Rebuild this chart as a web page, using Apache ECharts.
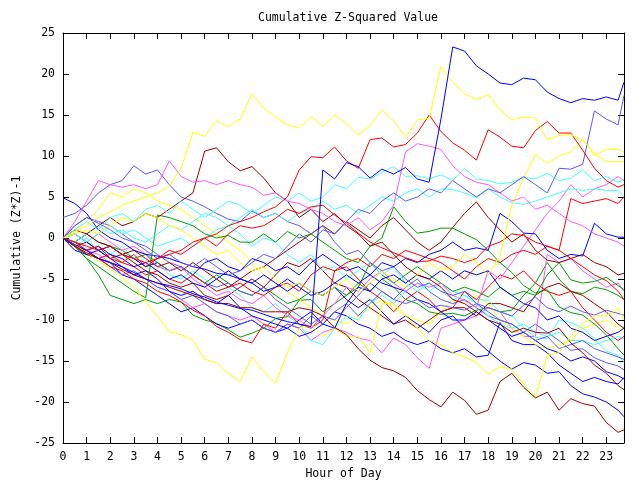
<!DOCTYPE html>
<html><head><meta charset="utf-8">
<script src="https://cdn.jsdelivr.net/npm/echarts@6/dist/echarts.min.js"></script>
<style>html,body{margin:0;background:#fff}#c{width:640px;height:480px}</style>
</head><body><div id="c"></div>
<script>
const HOURS = [0,0.5,1,1.5,2,2.5,3,3.5,4,4.5,5,5.5,6,6.5,7,7.5,8,8.5,9,9.5,10,10.5,11,11.5,12,12.5,13,13.5,14,14.5,15,15.5,16,16.5,17,17.5,18,18.5,19,19.5,20,20.5,21,21.5,22,22.5,23,23.5,23.75];
const X_LABELS = ['0','1','2','3','4','5','6','7','8','9','10','11','12','13','14','15','16','17','18','19','20','21','22','23'];
const Y_TICKS = [-25,-20,-15,-10,-5,0,5,10,15,20,25];

const blueTop = [0,-0.8,-1.5,-2.5,-3,-3.5,-4.2,-5,-5.5,-5.8,-6.2,-6.8,-7.2,-7.8,-8.2,-8.6,-8.8,-9.3,-9.8,-10.2,-10.5,-10.8,8.3,7.2,9.2,8.7,7.3,8.4,7.8,8.6,7.2,6.8,14.5,23.3,22.8,21,20,18.9,18.7,19.5,19.3,17.8,17,16.5,17,16.8,17.2,16.8,19];
const yelTop = [0,0.8,1.5,2.5,3.2,4,4.5,5,5.5,6.3,8.5,12.9,12.4,14.3,13.6,14.5,17.6,15.8,14.8,13.8,13.4,14.8,13.6,15,14,12.6,13.7,15.6,14.3,12.3,14.4,14.6,20.9,19,17.6,16.9,17.5,15.6,14.4,14.8,14.6,12,12.5,12.6,12,10.3,9.3,9.3,9.3];
const redTop = [0,-0.5,-1,-1.5,-1,-2,-2.5,-3,-2.5,-2,-1.5,-0.5,0,0.5,1.5,2,2.5,3.2,3.8,5,8.3,9.9,9.8,11.1,9.4,8.5,12,12.2,11.1,11.4,12.8,15,13,11.6,10.7,9.5,13.2,12.3,11.2,11,13.1,14.2,12.8,12.8,10.7,8.5,7,6.2,6.5];
const yelBot = [0,-0.8,-1.8,-2.8,-3.8,-4.8,-6,-7.8,-9.5,-11.4,-11.8,-12.5,-14.8,-15.2,-16.5,-17.5,-14.5,-16.3,-17.7,-14,-11,-10.5,-12,-11,-12,-12,-14,-8,-8,-9.5,-11,-12.5,-13,-14,-14.5,-15.2,-16.6,-15.7,-16,-17.8,-19.5,-14.3,-14,-12,-10.4,-9.5,-9.5,-8.6,-10];
const dredBot = [0,-1,-1.8,-2.5,-3,-3.8,-4.5,-5,-5.5,-6,-6.5,-7,-7.5,-8,-8,-8.5,-8.5,-9,-9,-9,-8.5,-8.8,-9.5,-10.9,-11.8,-13.5,-14.9,-15.8,-16.2,-17,-18.6,-19.7,-20.6,-18.8,-19.8,-21.5,-21,-17.5,-16.5,-18.2,-19.5,-18.8,-21,-19.6,-20.2,-20.5,-22.5,-23.7,-23.4];
const yelB = [0,0.5,1,0.5,1.5,2.5,2,3,2.5,1.5,1,0,-1,-2,-1.5,-3,-4,-3.5,-5,-6,-5.5,-6.5,-7,-6,-5,-6.5,-5.5,-4,-5,-6,-4.5,-3,-4,-3.5,-2,-3,-4.5,-2.2,4,7.3,10.2,9.1,10,10.5,12,10.1,10.8,10.8,10.5];
const lblueTop = [0,1.5,2.5,1.8,1,0,-0.5,-1.5,-2.5,-2,-3,-3.5,-2.5,-3.5,-4.5,-4,-3,-2,-2.5,-1,0.5,-0.5,1,0.5,2,3.5,3,4.5,5.5,4.5,5,6,5.5,7,6,5,6,5.5,6.5,7.5,6.5,5.5,8.5,8.4,9,15.5,14.5,13.8,17.4];
const magTop = [0,2,4.5,7,6.5,6.2,6.5,6,6.5,9.4,7.5,6.8,7,6.5,7,6.5,6.2,5.2,5.5,4.5,4.2,3.5,3,2,1.5,2.5,1,2,4,10.5,11.5,11.2,10.8,8.8,7.5,6.8,6.5,5.5,4.5,5,3.5,4,3,2,1.5,0.5,0,-0.5,-1];
const cyanA = [0,1,2,1,2.5,3,2,3.5,4,3,4.5,3.5,2.5,3.5,4.5,4,3,4,5,4.5,5.5,4.5,5,6.5,6,7.4,7.2,8,8.7,7.5,7.6,7.2,7.7,7,8.5,7.2,7,6.6,6.8,7.4,7.2,7.9,7,7.3,8.3,7,7.5,6.8,7.2];
const cyanB = [0,-0.5,0.5,1.5,0.5,1,0,-0.5,0.5,1.5,1,2,3,2.5,1.5,2.5,3.5,2.5,3,2,3,3.5,4.5,3.5,4,3,4,5,4.5,5.5,6,5,6,5.9,5.5,4.9,6,5,4.3,4.1,4.5,5,5.5,6,5.8,6,5.8,5.8,5];
const blueB = [0,-1,-1.5,-1,-2,-2.5,-3.5,-3,-4,-5,-4.5,-5.5,-6,-5,-4,-5,-5.5,-6.5,-6,-5,-6,-7,-6.5,-5.5,-4.5,-5.5,-4.5,-3,-3.5,-2.5,-3,-2,-1.5,-0.5,-1.5,-1.2,-1.5,3,2,0.6,0.5,-1.5,-2.5,-2,-2.2,1.8,0.5,0.1,0.1];
const redC = [0,-1,-1.5,-1,-2.5,-3,-2,-3.5,-2.5,-1.5,-2,-1,0,-1,0.5,1.5,1.2,1.5,2.4,3.5,3,3.8,4,2.8,1.8,0.6,-0.5,-1.2,-1.8,-2.4,-2.9,-2.8,-2.2,-2.5,-3,-2.5,-1,-0.5,0.5,0.3,-0.5,-1,-1.5,-2.5,-3.5,-4.5,-5.2,-6.5,-7.5];
const redD = [0,-0.5,-1.5,-2.5,-2,-3,-3.5,-4.5,-4,-5,-5.5,-4.5,-5.5,-6.5,-6,-5.5,-6.5,-7,-6,-5.5,-6.5,-4.5,-3.5,-4,-3,-2.5,-3.5,-2,-2.5,-1.5,-2,-2.5,-3,-4,-5,-3.5,-2.5,-3,-2,-1.5,-2,-1,-1.5,4.8,4.2,4.5,4.8,4.2,5];
const dredC = [0,-0.5,0.5,-0.5,-1,-2,-1.5,-2.5,-3.5,-3,-4,-3,-4,-5,-6,-5,-4,-3.5,-2.5,-1.5,-0.5,0.5,1.5,0.5,2,1,0,1.5,2.5,1,-0.5,-1.5,-0.5,1.3,3,4.4,2.5,1,-0.5,0.5,-1.5,-2.7,-3,-2.5,-2,-3,-3.5,-4.5,-4.3];
const dredD = [0,1,0.5,1.5,2.5,1.5,2,3,2.5,3.5,4.5,5.5,10.6,11,9.3,8.2,8.7,7.3,5.5,4.5,2.5,3.5,2,3,1.5,0.5,-1,-0.5,-2,-3.5,-4.5,-5,-6,-7.5,-8,-9,-10,-10.5,-11.5,-11,-11.5,-11.6,-11,-12.8,-14,-15.5,-16.5,-18,-18.5];
const greenA = [0,-1,-2.5,-3.5,-4.5,-5.5,-6.5,-7.3,2.8,2.5,2,1.5,0.5,0,0.3,-0.5,-0.5,0.5,-0.5,0.8,0,0.5,-0.5,-1.5,-2.5,-3,-1,0,3.8,2,0.6,0.8,1.2,1.2,0.5,-0.2,-1.5,-3,-4.2,-5.8,-6.7,-6.3,-8.4,-9.1,-9.4,-10.5,-11.8,-13.5,-14.3];
const greenB = [0,-1,-2.5,-4.5,-7,-7.5,-8,-7.5,-8,-7.5,-7.8,-9.4,-10,-10.4,-11.2,-12.1,-11.6,-11,-9.8,-9.6,-7.6,-7.5,-9,-8,-7,-5.5,-6.5,-5,-6,-7.5,-8,-9,-9.3,-9.2,-9.5,-8.8,-8.5,-9,-8.8,-7,-5.5,-3,-5,-6.5,-6.8,-6,-6.3,-7,-7.5];
const cyanC = [0,-1,0,-1.5,-2,-1,-2.5,-3.5,-3,-4.5,-5,-4,-5,-6.5,-6,-7,-8.5,-9,-8,-9.5,-10.5,-12.5,-13,-11,-9.5,-10,-8,-7,-8,-6.5,-5.5,-6.5,-5.5,-6.5,-7,-7.5,-7.6,-9,-9.5,-11,-12.1,-12.3,-10,-10.3,-11,-12.3,-13.8,-14.3,-15.1];
const lblueB = [0,-1,-2,-2.5,-3.5,-4.5,-4,-5,-6,-6.5,-7.5,-7,-8,-9,-9.5,-10.5,-10,-11,-11.5,-10.5,-11,-9.5,-10.5,-9,-8,-9.5,-8,-6.5,-7.5,-6,-5,-6.5,-7.5,-8,-7.5,-8.5,-9.5,-10,-10.5,-11.5,-10.5,-11.5,-12.5,-13.7,-13.5,-14.6,-15.2,-15.6,-16.1];
const lblueC = [0,1.5,2.5,2,1.5,0.5,-0.5,-1,-2,-3,-3.5,-4.5,-5.5,-6,-5.5,-6.5,-7,-6,-7.5,-8.5,-9.5,-10.5,-9.5,-10,-8.5,-7,-5.5,-6.5,-7.5,-8,-7.5,-8.5,-8.2,-8.5,-8.8,-8,-8.5,-9,-9.5,-8.2,-7.2,-8.5,-9,-8.3,-9,-9.4,-8.8,-9.2,-9.4];
const lblueD = [2.5,3,4,5.5,6.5,7,8.8,7.8,8.3,6.5,5,4.5,3.8,3,2.3,2,3.3,2.5,3,2,1.5,0.5,1.5,-0.5,-2,-1.5,-3,-4,-3.5,-5,-6,-5.5,-6.5,-7,-6.5,-8,-9,-10,-10.5,-11.5,-12.5,-12,-13.5,-13,-12.5,-13.5,-14,-14.5,-14.8];
const blueC = [4.9,4.2,3,1,0,-0.5,-1.5,-2,-2.2,-2.5,-3,-3.5,-3.8,-4.3,-4.5,-5,-5.5,-4.5,-5.5,-6.5,-5.5,-6.5,-7,-6,-7.5,-8.5,-7.5,-9,-10.5,-9.5,-10.5,-11.5,-10,-9.5,-11,-12.5,-13.8,-15,-16,-15.2,-15.5,-16.5,-16.3,-18,-19,-19.4,-20,-21,-21.8];
const blueD = [0,-1,-2,-2.5,-3,-4.5,-5,-6,-7,-8,-9,-8.5,-9.5,-10.5,-11,-10.5,-10,-11,-11.5,-11,-10,-9,-10.5,-9,-9.5,-10.5,-11,-12,-11.5,-12.5,-13,-12.5,-13.5,-14,-13.5,-14.5,-14.3,-10.3,-12.5,-13,-13,-14,-15.5,-16.5,-17.5,-17,-17.5,-17.8,-17];
const magC = [0,-0.5,-1.5,-2,-3,-3.5,-4.5,-5,-6,-6.5,-7.5,-8.5,-8,-9,-9.5,-10,-9.5,-10.5,-11.5,-10.5,-11,-12.5,-11.5,-11,-11.5,-12.2,-12.5,-14,-12.2,-13,-14.6,-15.9,-11,-10.5,-10,-9.5,-8.5,-9,-11,-12,-12,-2,-3,-2.5,-4,-5,-6,-5.5,-6.5];
const magD = [0,0.5,-0.5,0.5,-0.5,-1.5,-1,-2,-3.5,-4,-3.5,-5,-6,-7,-6.5,-7.5,-8,-7,-8.5,-9.5,-10,-11,-9.5,-8,-6,-6.5,-5,-4,-5.5,-6.5,-5.5,-6,-5.5,-7,-7.6,-8.5,-4,-5,-3,-1,1,3,4.5,6.5,5,6,6.5,7.5,7];
const cyanD = [0,0.5,-0.5,0.5,1.5,0.5,1,0,-1,-0.5,0,-1,0,1,1.5,0.5,-1,0,-0.5,-2,-3,-2,-4,-3.5,-5,-4,-3,-4.5,-3.5,-5.5,-6.5,-5.5,-6.5,-7.5,-7,-8,-9.5,-10.5,-11,-10.5,-11.5,-12,-11.5,-12.5,-12.5,-13,-12.5,-12,-12.3];
const greenC = [0,-0.5,0.5,-0.5,-1,-1.5,-2.5,-2,-3,-4,-3.5,-4.5,-5.5,-4.5,-5.5,-6.5,-7,-6,-7,-8,-7.5,-6.5,-7,-6,-7,-6,-3,-4.5,-5.5,-4.5,-3.5,-4.5,-5.5,-6.5,-6,-6.5,-7.2,-6,-7,-6.5,-7,-4.5,-3,-5.1,-5.5,-5.3,-4.8,-5.8,-6.3];
const redE = [0,-1,-2,-2.5,-3.5,-4,-5,-5.5,-6.5,-7,-7.8,-8.8,-9.5,-10.8,-11.5,-12.4,-12.8,-10.5,-11,-9,-10.5,-11,-10,-4,-3.5,-5,-6.5,-7.5,-9,-7.5,-6.5,-7.5,-9,-8.5,-6.5,-7.5,-6,-4.5,-5,-4,-5.5,-6.5,-7,-6.5,-8.5,-10,-11.5,-12.5,-12];
const blueE = [0,-1.5,-2,-1.5,-2.5,-3.5,-4.5,-4,-5,-6.5,-7,-6.5,-7.5,-8,-7,-8.5,-9.5,-10,-10.5,-11,-12,-11.5,-10.5,-11,-8,-6,-6.5,-5,-4.5,-5.5,-4.5,-5,-4,-5,-4,-4.5,-4,-6,-7,-8,-8.5,-10,-9.5,-11,-11.5,-12.5,-12,-11.5,-11];
const blueF = [0,0.5,-0.5,-1.5,-1,-2,-2.5,-3.5,-3,-4,-3.5,-4.5,-3,-2.5,-3.5,-4,-2.5,-3,-4,-3.5,-4.5,-3,-2,-3,-4,-3.5,-4.5,-5.5,-6,-6.5,-7.5,-8,-9,-10,-10,-9,-10,-11,-12,-11.5,-12.5,-13.5,-14,-15,-14.5,-15,-16.3,-16.8,-17.2];
const dredE = [0,-1,-0.5,-1.5,-2.5,-2,-3,-4,-4.5,-5.5,-6,-5.5,-7,-7.5,-7,-6,-5,-6,-4.5,-3,-3.5,-2.5,-4,-5.5,-6,-7.5,-8.5,-9.5,-10.5,-10,-11,-10,-9,-8.5,-8.5,-9.5,-8,-8,-8.5,-9,-7,-6,-5.5,-6.5,-7,-8,-9,-10.5,-11];
const yelD = [0,1,2,3.5,5.5,5,6,5.5,4.5,4,3.5,2.5,1.5,0.5,-0.5,-1.5,-3,-4.5,-5.5,-6.5,-7.5,-8.5,-9.5,-10,-10.5,-9.5,-8.5,-7.5,-8.5,-9.5,-10,-10.5,-9,-7.5,-8,-7,-8,-10,-11,-12,-13,-13.5,-13,-12.5,-11,-10.5,-10,-11,-11.5];

const C = {blue:'#0000ff', lblue:'#5a5aff', red:'#ff0000', dred:'#a00000', yel:'#ffff00', green:'#00a000', mag:'#ff55ff', cyan:'#40ffff'};
const LINES = [
  [greenB,'green'],[blueD,'blue'],[magC,'mag'],[yelD,'yel'],[lblueB,'lblue'],[dredE,'dred'],[cyanC,'cyan'],[redE,'red'],
  [blueF,'blue'],[greenC,'green'],[magD,'mag'],[lblueC,'lblue'],[cyanD,'cyan'],[dredC,'dred'],[blueE,'blue'],[redD,'red'],
  [blueC,'blue'],[lblueD,'lblue'],[greenA,'green'],[cyanB,'cyan'],[blueB,'blue'],[redC,'red'],[dredD,'dred'],[yelB,'yel'],
  [cyanA,'cyan'],[magTop,'mag'],[lblueTop,'lblue'],[yelBot,'yel'],[dredBot,'dred'],[redTop,'red'],[yelTop,'yel'],[blueTop,'blue']
];

const FONT = 'DejaVu Sans Mono';
const txt = {color:'#000', fontFamily:FONT, fontSize:11.5};
const axisLine = {show:true, onZero:false, lineStyle:{color:'#000', width:1}};
const chart = echarts.init(document.getElementById('c'), null, {renderer:'canvas'});
chart.setOption({
  animation:false,
  backgroundColor:'#fff',
  title:{text:'Cumulative Z-Squared Value', left:253, top:7, textStyle:Object.assign({fontWeight:'normal'}, txt)},
  grid:{left:63, right:16, top:33, bottom:37, show:false, containLabel:false, outerBoundsMode:'none'},
  xAxis:[
    {type:'value', min:0, max:23.75, interval:1, position:'bottom', axisLine, 
     axisTick:{inside:true, length:6, lineStyle:{color:'#000'}},
     axisLabel:Object.assign({margin:8, showMaxLabel:false, formatter:v=>Number.isInteger(v)?X_LABELS[v]:''}, txt),
     splitLine:{show:false}, name:'Hour of Day', nameLocation:'middle', nameGap:22, nameTextStyle:txt},
    {type:'value', min:0, max:23.75, interval:1, position:'top', axisLine,
     axisTick:{inside:true, length:6, lineStyle:{color:'#000'}}, axisLabel:{show:false}, splitLine:{show:false}}
  ],
  yAxis:[
    {type:'value', min:Y_TICKS[0], max:Y_TICKS[Y_TICKS.length-1], interval:5, position:'left', axisLine,
     axisTick:{inside:true, length:6, lineStyle:{color:'#000'}},
     axisLabel:Object.assign({margin:8}, txt), splitLine:{show:false},
     name:'Cumulative (Z*Z)-1', nameLocation:'middle', nameGap:34, nameRotate:90, nameTextStyle:txt},
    {type:'value', min:-25, max:25, interval:5, position:'right', axisLine,
     axisTick:{inside:true, length:6, lineStyle:{color:'#000'}}, axisLabel:{show:false}, splitLine:{show:false}}
  ],
  series: LINES.map(([arr,col],i)=>({
    type:'line', name:'s'+i, xAxisIndex:0, yAxisIndex:0, showSymbol:false, symbol:'none',
    lineStyle:{color:C[col], width:1}, itemStyle:{color:C[col]},
    data: HOURS.map((h,j)=>[h, arr[j]])
  }))
});
</script></body></html>
